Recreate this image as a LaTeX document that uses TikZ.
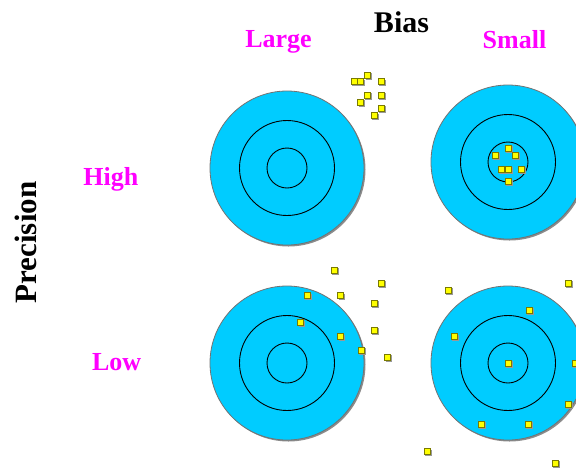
\documentclass[tikz,border=0pt]{standalone}
\usepackage{fontspec}
\setmainfont{Liberation Serif}
\definecolor{targetblue}{HTML}{00CCFF}
\definecolor{shotfill}{HTML}{FFFF00}
\definecolor{shotedge}{HTML}{7A7A00}
\definecolor{magentatxt}{HTML}{FF00FF}
\begin{document}
\begin{tikzpicture}[x=1pt,y=-1pt,
  ring/.style={draw=black,line width=0.9pt},
  outerdisc/.style={fill=targetblue,draw=black!55,line width=0.8pt},
  shadowdisc/.style={fill=black!45},
  shot/.style={rectangle,draw=shotedge,fill=shotfill,line width=0.7pt,minimum size=6pt,inner sep=0pt},
  shotshadow/.style={fill=black!40},
  headtxt/.style={font=\bfseries\fontsize{30}{30}\selectfont,text=black,anchor=base,inner sep=0pt},
  cattxt/.style={font=\bfseries\fontsize{26}{26}\selectfont,text=magentatxt,anchor=base,inner sep=0pt}]
\useasboundingbox (0,0) rectangle (576,467);
\clip (0,0) rectangle (576,467);
\fill[white] (0,0) rectangle (576,467);
% targets
\foreach \cx/\cy in {287/168, 508/162, 287/363, 508/363}{
  \fill[shadowdisc] (\cx+1.5,\cy+1.5) circle (77);
  \filldraw[outerdisc] (\cx,\cy) circle (77);
  \draw[ring] (\cx,\cy) circle (47.5);
  \draw[ring] (\cx,\cy) circle (20);
}
% shots
\foreach \n/\x/\y in {
  a1/354/81.7, a2/360.7/81.7, a3/367.7/75, a4/381/81.7, a5/367.3/95,
  a6/360.7/102.3, a7/381/95, a8/381/108.3, a9/374/115.7,
  b1/508.3/148.3, b2/495/155, b3/515/155, b4/501/169, b5/508.3/169,
  b6/521.7/169, b7/508.3/181.7,
  c1/334/270, c2/381/283.3, c3/307.3/295.7, c4/340.7/295.7, c5/374/303.3,
  c6/300.7/322.7, c7/374/330, c8/340.7/336.7, c9/361/350, c10/387.7/357.3,
  d1/448.3/290, d2/568.3/283.3, d3/529/310, d4/454/336.7, d5/508.3/363.3,
  d6/575/363.3, d7/568.3/404, d8/481/424, d9/528.3/424, d10/427.3/451.7,
  d11/555/463.3}{
  \fill[shotshadow] (\x-2,\y-2) rectangle (\x+4.5,\y+4.5);
  \node[shot] (\n) at (\x,\y) {};
}
% labels
\node[headtxt] (bias) at (401.5,32) {Bias};
\node[cattxt] (large) at (278.5,47.3) {Large};
\node[cattxt] (small) at (514.5,48) {Small};
\node[cattxt] (high) at (110.8,185) {High};
\node[cattxt] (low) at (116.7,370) {Low};
\node[headtxt,font=\bfseries\fontsize{31}{31}\selectfont,rotate=90] (precision) at (36.7,242.5) {Precision};
\end{tikzpicture}
\end{document}
